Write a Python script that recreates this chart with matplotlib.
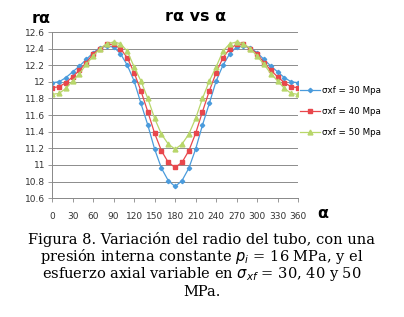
import matplotlib
matplotlib.use("Agg")
import matplotlib.pyplot as plt

angles = list(range(0, 361, 10))
half30 = [11.99, 12.00, 12.05, 12.12, 12.19, 12.27, 12.35, 12.41, 12.43, 12.42,
          12.34, 12.20, 12.01, 11.74, 11.48, 11.19, 10.96, 10.81, 10.74]
half40 = [11.93, 11.94, 11.99, 12.06, 12.14, 12.23, 12.34, 12.40, 12.45, 12.45,
          12.40, 12.29, 12.11, 11.89, 11.64, 11.38, 11.17, 11.03, 10.97]
half50 = [11.85, 11.86, 11.92, 12.01, 12.10, 12.21, 12.31, 12.40, 12.46, 12.48,
          12.46, 12.37, 12.18, 12.01, 11.80, 11.56, 11.37, 11.25, 11.19]
r30 = half30 + half30[-2::-1]
r40 = half40 + half40[-2::-1]
r50 = half50 + half50[-2::-1]
labels = ["σxf = 30 Mpa", "σxf = 40 Mpa", "σxf = 50 Mpa"]
yticks = [10.6, 10.8, 11.0, 11.2, 11.4, 11.6, 11.8, 12.0, 12.2, 12.4, 12.6]
yticklabels = ["10.6", "10.8", "11", "11.2", "11.4", "11.6", "11.8", "12", "12.2", "12.4", "12.6"]
xticks = list(range(0, 361, 30))

fig = plt.figure(figsize=(4.04, 3.17), dpi=100)
ax = fig.add_axes([0.129, 0.375, 0.609, 0.524])

ax.plot(angles, r30, color="#4a9bdc", marker="D", markersize=2.2, lw=0.9, label=labels[0])
ax.plot(angles, r40, color="#e8474c", marker="s", markersize=3.5, lw=0.9, label=labels[1])
ax.plot(angles, r50, color="#b8d66a", marker="^", markersize=3.5, lw=0.9, label=labels[2])

ax.set_xlim(0, 360)
ax.set_ylim(10.6, 12.6)
ax.set_yticks(yticks)
ax.set_yticklabels(yticklabels)
ax.set_xticks(xticks)
ax.tick_params(labelsize=6.5, colors="#333333", length=3, width=0.6, color="#888888", pad=2)
ax.tick_params(axis="x", pad=7)
ax.grid(axis="y", color="#8c8c8c", lw=0.7)
ax.set_axisbelow(True)
for s in ["top", "right"]:
    ax.spines[s].set_visible(False)
for s in ["left", "bottom"]:
    ax.spines[s].set_color("#888888")
    ax.spines[s].set_linewidth(0.7)

ax.legend(loc="center left", bbox_to_anchor=(0.995, 0.52), frameon=False, fontsize=6.3,
          handlelength=2.2, labelspacing=1.35, handletextpad=0.3, borderaxespad=0)

fig.text(0.483, 0.948, "rα vs α", ha="center", va="center", fontsize=11.5, fontweight="bold")
fig.text(0.103, 0.943, "rα", ha="center", va="center", fontsize=11.5, fontweight="bold")
fig.text(0.80, 0.328, "α", ha="center", va="center", fontsize=11.5, fontweight="bold")

cap = ["Figura 8. Variación del radio del tubo, con una",
       "presión interna constante $p_i$ = 16 MPa, y el",
       "esfuerzo axial variable en $\\sigma_{xf}$ = 30, 40 y 50",
       "MPa."]
ys = [0.245, 0.19, 0.135, 0.08]
for t, y in zip(cap, ys):
    fig.text(0.5, y, t, ha="center", va="center", fontsize=10.5, family="DejaVu Serif")

fig.savefig("out.png", dpi=100)
